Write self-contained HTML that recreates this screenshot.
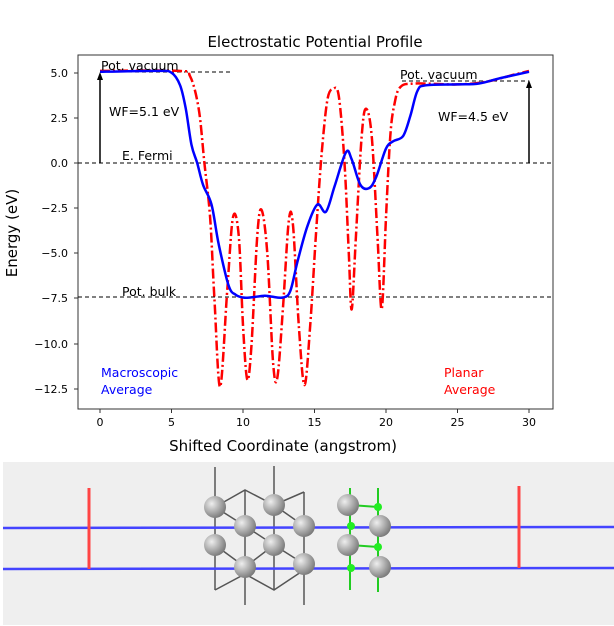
<!DOCTYPE html>
<html><head><meta charset="utf-8"><style>
body{margin:0;background:#fff;width:614px;height:626px;overflow:hidden}
svg{display:block;font-family:"DejaVu Sans","Liberation Sans",sans-serif}
</style></head><body>
<svg id="s" width="614" height="626" viewBox="0 0 614 626">
<rect x="0" y="0" width="614" height="626" fill="#fff"/>
<text x="315" y="47" font-size="15" text-anchor="middle">Electrostatic Potential Profile</text>
<rect x="78" y="55" width="475" height="354" fill="none" stroke="#333" stroke-width="1"/>
<g font-size="11" text-anchor="end" fill="#000">
<text x="68" y="77">5.0</text><text x="68" y="122">2.5</text><text x="68" y="167">0.0</text>
<text x="68" y="212">−2.5</text><text x="68" y="257">−5.0</text><text x="68" y="302">−7.5</text>
<text x="68" y="348">−10.0</text><text x="68" y="393">−12.5</text>
</g>
<g stroke="#333"><line x1="74" x2="78" y1="73" y2="73"/><line x1="74" x2="78" y1="118" y2="118"/><line x1="74" x2="78" y1="163" y2="163"/><line x1="74" x2="78" y1="208" y2="208"/><line x1="74" x2="78" y1="253" y2="253"/><line x1="74" x2="78" y1="298" y2="298"/><line x1="74" x2="78" y1="344" y2="344"/><line x1="74" x2="78" y1="389" y2="389"/>
<line y1="409" y2="413" x1="100" x2="100"/><line y1="409" y2="413" x1="171.5" x2="171.5"/><line y1="409" y2="413" x1="243" x2="243"/><line y1="409" y2="413" x1="314.5" x2="314.5"/><line y1="409" y2="413" x1="386" x2="386"/><line y1="409" y2="413" x1="457.5" x2="457.5"/><line y1="409" y2="413" x1="529" x2="529"/></g>
<g font-size="11" text-anchor="middle"><text x="100" y="426">0</text><text x="171.5" y="426">5</text><text x="243" y="426">10</text><text x="314.5" y="426">15</text><text x="386" y="426">20</text><text x="457.5" y="426">25</text><text x="529" y="426">30</text></g>
<text x="283" y="451" font-size="15" text-anchor="middle">Shifted Coordinate (angstrom)</text>
<text transform="translate(17,233) rotate(-90)" font-size="15" text-anchor="middle">Energy (eV)</text>
<g stroke="#000" stroke-dasharray="4,3" stroke-width="1">
<line x1="78" x2="553" y1="163" y2="163"/><line x1="78" x2="553" y1="297" y2="297"/>
<line x1="100" x2="230" y1="72" y2="72"/><line x1="402" x2="529" y1="81" y2="81"/></g>
<path id="red" fill="none" stroke="#f00" stroke-width="2.5" stroke-dasharray="10,3,2,3"/>
<path id="blue" fill="none" stroke="#00f" stroke-width="2.5"/>
<g stroke="#000" stroke-width="1.5"><line x1="100" y1="163" x2="100" y2="78"/><line x1="529" y1="163" x2="529" y2="86"/></g>
<polygon points="100,72 97,80 103,80"/><polygon points="529,80 526,88 532,88"/>
<g font-size="12.5"><text x="101" y="70">Pot. vacuum</text><text x="400" y="79">Pot. vacuum</text>
<text x="109" y="116">WF=5.1 eV</text><text x="438" y="121">WF=4.5 eV</text>
<text x="122" y="160">E. Fermi</text><text x="122" y="296">Pot. bulk</text>
<text x="101" y="377" fill="#00f">Macroscopic</text><text x="101" y="394" fill="#00f">Average</text>
<text x="444" y="377" fill="#f00">Planar</text><text x="444" y="394" fill="#f00">Average</text></g>
<rect x="3" y="462" width="611" height="163" fill="#efefef"/>
<g stroke="#555" stroke-width="1.5" fill="none">
<line x1="215" y1="467" x2="215" y2="590"/><line x1="274" y1="466" x2="274" y2="590"/>
<line x1="245" y1="490" x2="245" y2="605"/><line x1="304" y1="492" x2="304" y2="605"/>
<polyline points="215,507 245,490 274,505 304,492"/><polyline points="215,590 245,574 274,590 304,570"/>
<line x1="245" y1="526" x2="274" y2="545"/><line x1="215" y1="507" x2="245" y2="526"/><line x1="274" y1="505" x2="304" y2="526"/>
<line x1="245" y1="567" x2="274" y2="545"/><line x1="215" y1="545" x2="245" y2="567"/><line x1="274" y1="545" x2="304" y2="564"/>
</g>
<g stroke="#2c2" stroke-width="2"><line x1="350" y1="488" x2="350" y2="590"/><line x1="378" y1="488" x2="378" y2="592"/>
<line x1="350" y1="505" x2="378" y2="507"/><line x1="350" y1="545" x2="378" y2="547"/></g>
<g stroke="#44f" stroke-width="2.5"><line x1="3" y1="528" x2="614" y2="527"/><line x1="3" y1="569" x2="614" y2="568"/></g>
<g stroke="#f44" stroke-width="3"><line x1="89" y1="488" x2="89" y2="569"/><line x1="519" y1="486" x2="519" y2="568"/></g>
<defs><radialGradient id="g" cx="0.35" cy="0.35" r="0.7"><stop offset="0" stop-color="#eee"/><stop offset="1" stop-color="#777"/></radialGradient></defs>
<g fill="url(#g)">
<circle cx="215" cy="507" r="11"/><circle cx="274" cy="505" r="11"/><circle cx="245" cy="526" r="11"/><circle cx="304" cy="526" r="11"/>
<circle cx="215" cy="545" r="11"/><circle cx="274" cy="545" r="11"/><circle cx="245" cy="567" r="11"/><circle cx="304" cy="564" r="11"/>
<circle cx="348" cy="505" r="11"/><circle cx="380" cy="526" r="11"/><circle cx="348" cy="545" r="11"/><circle cx="380" cy="567" r="11"/></g>
<g fill="#2e2"><circle cx="378" cy="507" r="4"/><circle cx="351" cy="526" r="4"/><circle cx="378" cy="547" r="4"/><circle cx="351" cy="568" r="4"/></g>
</svg>
<script>
function P(d){return d.map(function(p){return [100+14.3*p[0],163-18.06*p[1]];});}
function path(pts){var s="M"+pts[0][0].toFixed(1)+","+pts[0][1].toFixed(1);
for(var i=0;i<pts.length-1;i++){var p0=pts[i-1]||pts[i],p1=pts[i],p2=pts[i+1],p3=pts[i+2]||p2;
var c1=[p1[0]+(p2[0]-p0[0])/6,p1[1]+(p2[1]-p0[1])/6],c2=[p2[0]-(p3[0]-p1[0])/6,p2[1]-(p3[1]-p1[1])/6];
s+="C"+c1[0].toFixed(1)+","+c1[1].toFixed(1)+" "+c2[0].toFixed(1)+","+c2[1].toFixed(1)+" "+p2[0].toFixed(1)+","+p2[1].toFixed(1);}return s;}
var blue=[[0,5.05],[4,5.1],[5,5.0],[5.6,4.3],[6,3],[6.4,1],[6.8,0],[7.2,-1.2],[7.8,-2.3],[8.3,-4.5],[9,-6.8],[9.5,-7.3],[10,-7.45],[10.5,-7.45],[11.5,-7.35],[12,-7.4],[12.8,-7.45],[13.3,-7.1],[13.8,-5.5],[14.5,-3.5],[15.2,-2.3],[15.8,-2.7],[16.4,-1.3],[17.2,0.6],[17.6,0.2],[18.2,-1.2],[18.8,-1.4],[19.3,-0.8],[20,0.8],[20.5,1.2],[21.2,1.5],[21.7,2.6],[22.2,4.0],[22.8,4.3],[25,4.35],[26.5,4.4],[28,4.7],[30,5.05]];
var red=[[0,5.1],[5.5,5.1],[6.3,4.8],[6.9,3],[7.3,0],[7.7,-3],[8,-7.5],[8.4,-12.4],[8.9,-7],[9.3,-3],[9.7,-4],[10,-9],[10.3,-12.0],[10.6,-10],[11.0,-4],[11.3,-2.6],[11.7,-5],[12.1,-11],[12.4,-11.9],[12.8,-8],[13.2,-3.2],[13.5,-3.5],[13.9,-9],[14.3,-12.3],[14.7,-9],[15.1,-4],[15.5,0.5],[15.9,3.5],[16.3,4.1],[16.7,3.7],[17.1,0],[17.4,-5],[17.6,-8.1],[17.9,-4],[18.3,1.5],[18.6,3.0],[19.0,1.5],[19.4,-4],[19.7,-8.1],[20.0,-3],[20.3,1.5],[20.6,3.3],[21,4.2],[22,4.4],[25,4.35],[27,4.5],[29,4.9],[30,5.1]];
document.getElementById("blue").setAttribute("d",path(P(blue)));
document.getElementById("red").setAttribute("d",path(P(red)));
</script>
</body></html>
